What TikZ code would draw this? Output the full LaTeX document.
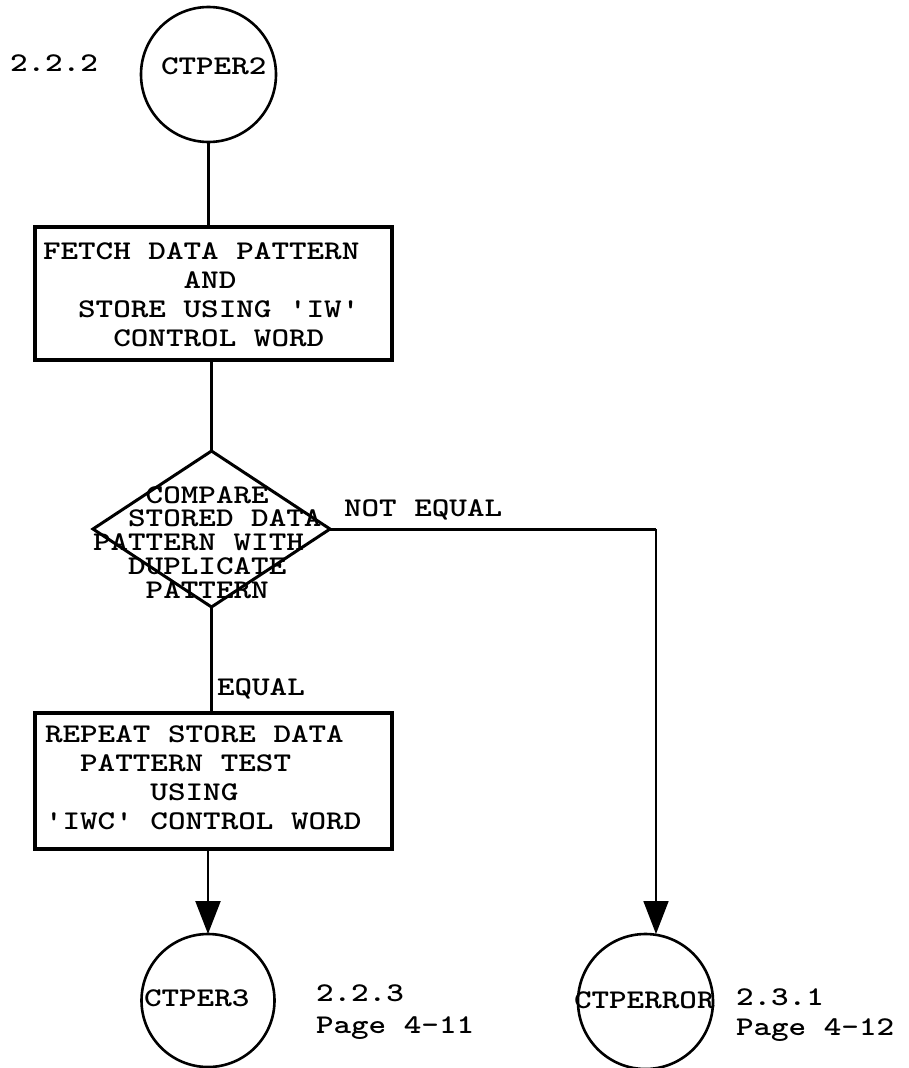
\documentclass[tikz,border=0pt]{standalone}
\usepackage{fontspec}
\usepackage{graphicx}
\usetikzlibrary{arrows.meta,shapes.geometric}

% typewriter lettering: Latin Modern Mono, widened to a 17.6pt pitch
\newcommand\tw[2]{\scalebox{1.24}[1]{\fontsize{27}{#1}\selectfont\ttfamily\bfseries
  \begin{tabular}[t]{@{}l@{}}#2\end{tabular}}}
\newcommand\ind[1]{\phantom{#1}}
\newcommand\q{\textquotesingle}

\begin{document}
\begin{tikzpicture}[x=1pt,y=-1pt,
  every node/.style={inner sep=0pt,outer sep=0pt},
  lbl/.style={anchor=base west},
  conn/.style={circle,draw,line width=2.6pt},
  procbox/.style={rectangle,draw,line width=3.4pt},
  decide/.style={diamond,draw,line width=3pt},
  flow/.style={line width=2.3pt},
  tip/.style={-{Triangle[length=33pt,width=25pt]}}]
\useasboundingbox (0,0) rectangle (909,1068);

% entry connector
\node[conn,minimum size=135pt] (c2) at (208.5,74.5) {};
\node[lbl] (c2t) at (161,74) {\tw{29}{CTPER2}};
\node[lbl] (n222) at (10,71.7) {\tw{29}{2.2.2}};

% fetch and store box
\node[procbox,minimum width=357pt,minimum height=133pt] (b1) at (213.5,293.5) {};
\node[lbl] (b1t) at (43,259) {\tw{29}{FETCH DATA PATTERN\\
  \ind{XXXXXXXX}AND\\
  \ind{XX}STORE USING \q IW\q\\
  \ind{XXXX}CONTROL WORD}};

% comparison
\node[decide,minimum width=237pt,minimum height=156pt] (d) at (211.5,529) {};
\node[lbl] (dt) at (93,503.2) {\tw{23.2}{\ind{XXX}COMPARE\\
  \ind{XX}STORED DATA\\
  PATTERN WITH\\
  \ind{XX}DUPLICATE\\
  \ind{XXX}PATTERN}};

% repeat box
\node[procbox,minimum width=357pt,minimum height=136pt] (b2) at (213.5,781) {};
\node[lbl] (b2t) at (45,742) {\tw{29}{REPEAT STORE DATA\\
  \ind{XX}PATTERN TEST\\
  \ind{XXXXXX}USING\\
  \q IWC\q{} CONTROL WORD}};

% exit connectors
\node[conn,minimum size=133pt] (c3) at (208,1000.5) {};
\node[lbl] (c3t) at (144,1006.7) {\tw{29}{CTPER3}};
\node[lbl] (c3r) at (316,1001.7) {\tw{31.5}{2.2.3\\Page 4-11}};

\node[conn,minimum size=135pt] (ce) at (645.5,1001.5) {};
\node[lbl] (cet) at (574,1008) {\tw{29}{CTPERROR}};
\node[lbl] (cer) at (736,1005) {\tw{30}{2.3.1\\Page 4-12}};

% branch labels
\node[lbl] (ne) at (344,516.7) {\tw{29}{NOT EQUAL}};
\node[lbl] (eq) at (217,695) {\tw{29}{EQUAL}};

% flow lines
\coordinate (turn) at (656,529);
\draw[flow] (c2.south) -- (c2.south |- b1.north);
\draw[flow] (d.north |- b1.south) -- (d.north);
\draw[flow] (d.south) -- (d.south |- b2.north);
\draw[flow,tip] (c3.north |- b2.south) -- (c3.north);
\draw[line width=3pt] (d.east) -- (turn);
\draw[line width=1.8pt,tip] (turn) -- (turn |- ce.north);
\end{tikzpicture}
\end{document}
